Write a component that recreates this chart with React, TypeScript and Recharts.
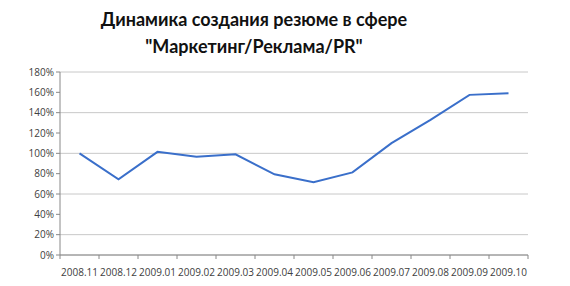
import { LineChart, Line, XAxis, YAxis, CartesianGrid } from 'recharts';

const months = [
  '2008.11', '2008.12', '2009.01', '2009.02', '2009.03', '2009.04',
  '2009.05', '2009.06', '2009.07', '2009.08', '2009.09', '2009.10',
];
const values = [100, 74.5, 101.5, 96.7, 99, 79.4, 71.5, 81.3, 110, 133, 157.5, 159];
const yTicks = [0, 20, 40, 60, 80, 100, 120, 140, 160, 180];

const W = 570;
const H = 286;
const margin = { top: 72, right: 42, left: 0, bottom: 1 };
const yAxisWidth = 60;
const band = (W - margin.left - margin.right - yAxisWidth) / months.length;

const data = months.map((m, i) => ({ month: m, value: values[i] }));

// Excel-style: tick marks sit between categories, labels in the middle
const MonthTick = ({ x, y, payload, index }: any) => {
  const last = index === months.length - 1;
  return (
    <g>
      <line x1={x - band / 2} y1={y - 8} x2={x - band / 2} y2={y - 4} stroke="#888" />
      {last && <line x1={x + band / 2} y1={y - 8} x2={x + band / 2} y2={y - 4} stroke="#888" />}
      <text x={x} y={y + 13} textAnchor="middle" fill="#404040" fontSize={10} fontFamily="Open Sans">
        {payload.value}
      </text>
    </g>
  );
};

export default function App() {
  return (
    <div style={{ position: 'absolute', left: 0, top: 0, width: W, height: H, background: '#fff' }}>
      <div
        style={{
          position: 'absolute',
          left: -31,
          top: 6,
          width: W,
          textAlign: 'center',
          fontFamily: 'Lato',
          fontWeight: 700,
          fontSize: 18,
          lineHeight: '27px',
          color: '#111',
        }}
      >
        Динамика создания резюме в сфере
        <br />
        "Маркетинг/Реклама/PR"
      </div>
      <LineChart width={W} height={H} data={data} margin={margin}>
        <CartesianGrid vertical={false} stroke="#c8c8c8" />
        <XAxis
          dataKey="month"
          stroke="#888"
          tickLine={false}
          tick={<MonthTick />}
          interval={0}
          height={30}
          padding={{ left: band / 2, right: band / 2 }}
        />
        <YAxis
          domain={[0, 180]}
          ticks={yTicks}
          tickFormatter={(v: number) => `${v}%`}
          stroke="#888"
          tickSize={4}
          width={yAxisWidth}
          tick={{ fill: '#404040', fontSize: 10, fontFamily: 'Open Sans' }}
        />
        <Line
          type="linear"
          dataKey="value"
          stroke="#3a6fca"
          strokeWidth={2}
          dot={false}
          isAnimationActive={false}
        />
      </LineChart>
    </div>
  );
}
